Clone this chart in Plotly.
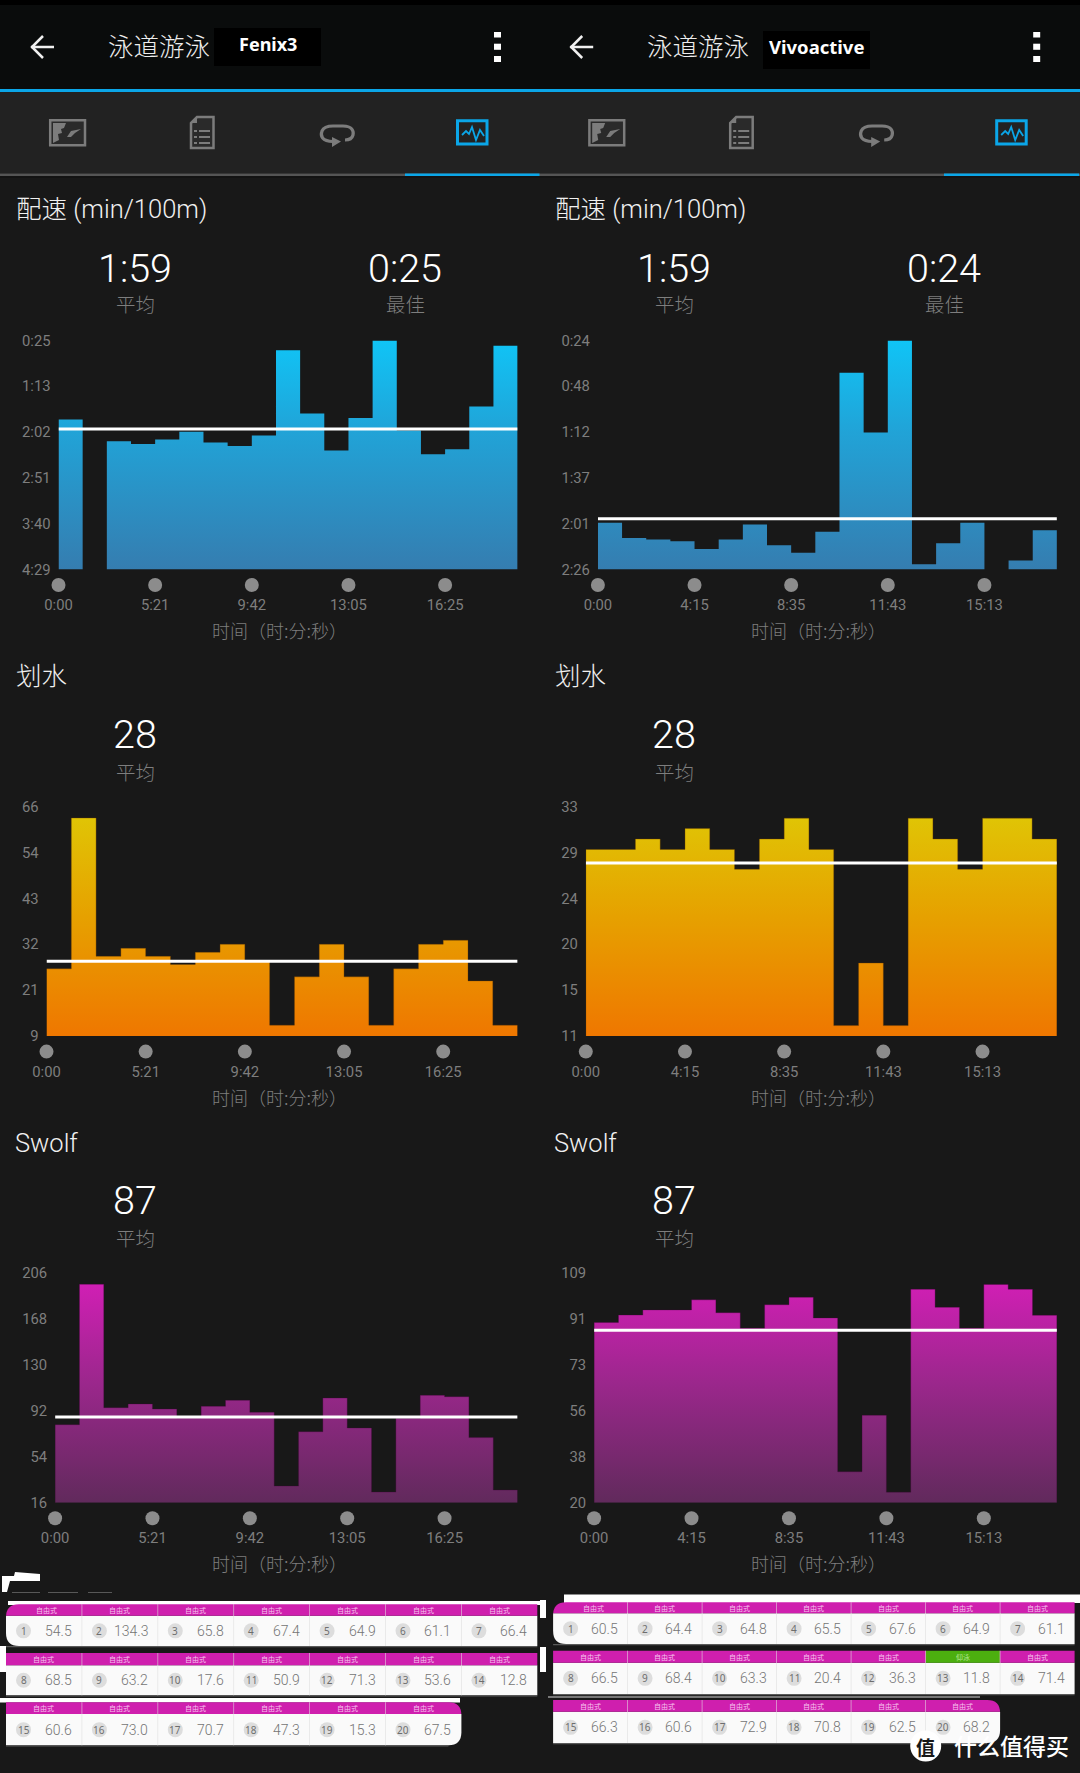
import plotly.graph_objects as go

W, H = 1080, 1773

# ---------- data ----------
pace_f = [109.4, None, 132.4, 135.5, 130.7, 122.4, 133.7, 137.6, 126.3, 35.4, 102.8, 142.4, 107.6, 25, 121.1, 146.3, 141.1, 95.5, 30.7]
pace_v = [121.2, 129.3, 130.1, 131, 135.1, 130.1, 122.1, 133.2, 137.1, 126, 41.2, 73.1, 24, 143.2, 132.1, 121.2, None, 141.2, 125.1]
strokes_f = [25.7, 63.2, 28.8, 30.8, 28.8, 26.8, 29.8, 31.8, 27.6, 11.7, 23.7, 31.8, 23.7, 11.7, 25.7, 31.8, 32.8, 22.7, 11.7]
strokes_v = [28.9, 28.9, 29.9, 28.9, 30.9, 28.9, 27, 29.9, 31.9, 28.9, 12, 18, 12, 31.9, 29.9, 27, 31.9, 31.9, 29.9]
swolf_f = [80.6, 196.9, 94.7, 97.8, 93.6, 86.2, 95.8, 100.8, 90.9, 29.8, 74.8, 102.7, 77.9, 24.8, 85.9, 104.9, 103.8, 69.9, 26.5]
swolf_v = [89.9, 92.8, 94.8, 94.8, 98.7, 93.7, 87.7, 96.8, 99.7, 91.7, 32, 53.9, 24.1, 102.8, 95.8, 87.7, 104.7, 102.8, 92.7]

avg_pace_f, avg_pace_v = 119.4, 119
avg_strokes_f, avg_strokes_v = 27.6, 27.6
avg_swolf_f, avg_swolf_v = 87, 86.9

ticks_pace_f = ["0:25", "1:13", "2:02", "2:51", "3:40", "4:29"]
tickv_pace_f = [25, 73.8, 122.6, 171.4, 220.2, 269]
ticks_pace_v = ["0:24", "0:48", "1:12", "1:37", "2:01", "2:26"]
tickv_pace_v = [24, 48.4, 72.8, 97.2, 121.6, 146]
ticks_str_f = ["66", "54", "43", "32", "21", "9"]
tickv_str_f = [66, 54.6, 43.2, 31.8, 20.4, 9]
ticks_str_v = ["33", "29", "24", "20", "15", "11"]
tickv_str_v = [33, 28.6, 24.2, 19.8, 15.4, 11]
ticks_sw_f = ["206", "168", "130", "92", "54", "16"]
tickv_sw_f = [206, 168, 130, 92, 54, 16]
ticks_sw_v = ["109", "91", "73", "56", "38", "20"]
tickv_sw_v = [109, 91.2, 73.4, 55.6, 37.8, 20]

time_idx = [0, 4, 8, 12, 16]
times_f = ["0:00", "5:21", "9:42", "13:05", "16:25"]
times_v = ["0:00", "4:15", "8:35", "11:43", "15:13"]

laps_f = [54.5, 134.3, 65.8, 67.4, 64.9, 61.1, 66.4, 68.5, 63.2, 17.6, 50.9, 71.3, 53.6, 12.8,
          60.6, 73.0, 70.7, 47.3, 15.3, 67.5]
laps_v = [60.5, 64.4, 64.8, 65.5, 67.6, 64.9, 61.1, 66.5, 68.4, 63.3, 20.4, 36.3, 11.8, 71.4,
          66.3, 60.6, 72.9, 70.8, 62.5, 68.2]
stroke_name = "自由式"
stroke_alt = "仰泳"
alt_lap_v = 13

# ---------- style ----------
BG = "#181818"
BLUE = "#0ba6e8"
GREY = "#7e7e7e"
MAG = "#cf1fae"
GREEN = "#4caf0f"
SANS = "Roboto, 'Noto Sans CJK SC', sans-serif"
CJK = "'Noto Sans CJK SC', Roboto, sans-serif"

CS_PACE = [[0, "#10c4f6"], [0.4, "#21a3d7"], [1, "#357db0"]]
CS_STR = [[0, "#e0c405"], [0.45, "#e6a100"], [1, "#ef7700"]]
CS_SW = [[0, "#d01fb4"], [0.45, "#9b278c"], [1, "#612a5c"]]

fx = lambda x: x / W
fy = lambda y: 1 - y / H

shapes, annos = [], []


def path(pts, close=True):
    d = "M" + " L".join(f"{fx(x):.5f},{fy(y):.5f}" for x, y in pts)
    return d + (" Z" if close else "")


def add_poly(pts, fill=None, lc=None, lw=0, close=True):
    shapes.append(dict(type="path", path=path(pts, close), xref="paper", yref="paper",
                       fillcolor=fill if fill else "rgba(0,0,0,0)",
                       line=dict(color=lc if lc else "rgba(0,0,0,0)", width=lw)))


def add_rect(x0, y0, x1, y1, fill=None, lc=None, lw=0):
    shapes.append(dict(type="rect", xref="paper", yref="paper", x0=fx(x0), x1=fx(x1), y0=fy(y0), y1=fy(y1),
                       fillcolor=fill if fill else "rgba(0,0,0,0)",
                       line=dict(color=lc if lc else "rgba(0,0,0,0)", width=lw)))


def add_circle(cx, cy, rx, ry, fill):
    shapes.append(dict(type="circle", xref="paper", yref="paper", x0=fx(cx - rx), x1=fx(cx + rx),
                       y0=fy(cy - ry), y1=fy(cy + ry), fillcolor=fill, line=dict(width=0)))


def rrect(x0, y0, x1, y1, fill, tl=0, tr=0, br=0, bl=0):
    def p(x, y):
        return f"{fx(x):.5f},{fy(y):.5f}"
    d = f"M{p(x0 + tl, y0)} L{p(x1 - tr, y0)} Q{p(x1, y0)} {p(x1, y0 + tr)} L{p(x1, y1 - br)} Q{p(x1, y1)} {p(x1 - br, y1)} "
    d += f"L{p(x0 + bl, y1)} Q{p(x0, y1)} {p(x0, y1 - bl)} L{p(x0, y0 + tl)} Q{p(x0, y0)} {p(x0 + tl, y0)} Z"
    shapes.append(dict(type="path", path=d, xref="paper", yref="paper", fillcolor=fill, line=dict(width=0)))


def text(x, y, s, size, color="#ffffff", family=SANS, anchor="center", weight=None):
    f = dict(size=size, color=color, family=family)
    if weight:
        f["weight"] = weight
    annos.append(dict(x=fx(x), y=fy(y), xref="paper", yref="paper", text=s, showarrow=False,
                      xanchor=anchor, yanchor="middle", font=f, borderpad=0, borderwidth=0))


# ---------- app chrome ----------
add_rect(0, 0, W, 5, "#000000")
add_rect(0, 5, W, 89, "#0a0c0c")
add_rect(0, 92, W, 173, "#222222")
add_rect(0, 89, W, 92, BLUE)
add_rect(0, 173.5, W, 176, "#555555")
add_rect(0, 176, W, 178, "#131313")
add_rect(405, 173.5, 539.5, 176, BLUE)
add_rect(944, 173.5, 1079, 176, BLUE)

add_rect(214, 28, 321, 66, "#000000")
add_rect(763, 31, 870, 69, "#000000")
text(267.6, 44, "Fenix3", 18, family="'Noto Sans', sans-serif", weight=700)
text(816.5, 46, "Vivoactive", 18.5, family="'Noto Sans', sans-serif", weight=700)

for dx in (0, 539.2):
    # back arrow
    add_poly([(dx + 31, 47), (dx + 54, 47)], lc="#f0f0f0", lw=2.5, close=False)
    add_poly([(dx + 43, 36), (dx + 32, 47), (dx + 43, 58)], lc="#f0f0f0", lw=2.5, close=False)
    text(dx + 159, 45, "泳道游泳", 25.5, "#eeeeee", CJK, weight=300)
    # overflow menu
    for a, b in ((32, 37.5), (43.7, 49.8), (56, 62)):
        add_rect(dx + 494, a, dx + 501, b, "#ffffff")
    # tab 1: pool
    add_rect(dx + 50.2, 120.2, dx + 85, 145.2, lc="#7c7c7c", lw=2.5, fill="#2a2a2a")
    add_poly([(dx + 53, 123), (dx + 66, 123), (dx + 64, 128), (dx + 61, 129), (dx + 62, 133), (dx + 58, 134),
              (dx + 59, 140), (dx + 53, 143)], fill="#7c7c7c")
    add_poly([(dx + 67, 137), (dx + 71, 131), (dx + 81, 129), (dx + 75, 133), (dx + 71, 137)], fill="#7c7c7c")
    # tab 2: document
    add_poly([(dx + 197, 117), (dx + 213.5, 117), (dx + 213.5, 148), (dx + 191, 148), (dx + 191, 123)],
             lc="#7c7c7c", lw=2.5, fill="#2a2a2a")
    add_poly([(dx + 197, 117), (dx + 197, 123), (dx + 191, 123)], fill="#7c7c7c")
    for ly in (131, 137, 143):
        add_rect(dx + 194, ly - 1, dx + 197, ly + 1, "#7c7c7c")
        add_rect(dx + 199, ly - 1, dx + 210, ly + 1, "#7c7c7c")
    # tab 3: loop
    d = "M{} C{} {} {} C{} {} {} L{} C{} {} {} C{} {} {}".format(*[
        f"{fx(dx + a):.5f},{fy(b):.5f}" for a, b in [
            (333, 141.5), (322, 141), (320, 136), (322, 131), (324, 126.5), (329, 126), (333, 126), (343, 126),
            (352, 126), (354, 131), (353, 135), (352, 139), (348, 140), (345, 140)]])
    shapes.append(dict(type="path", path=d, xref="paper", yref="paper", line=dict(color="#7c7c7c", width=3.2)))
    add_poly([(dx + 332, 137), (dx + 341, 141.5), (dx + 332, 147)], fill="#7c7c7c")
    # tab 4: activity
    add_rect(dx + 457.5, 120.8, dx + 487, 144, lc=BLUE, lw=3)
    add_poly([(dx + 462, 135), (dx + 466, 131), (dx + 469, 134), (dx + 472, 127), (dx + 476, 140),
              (dx + 480, 130), (dx + 484, 136)], lc=BLUE, lw=1.8, close=False)


# ---------- charts ----------
def steps(vals, base):
    xs, ys, open_seg = [], [], False
    for i, v in enumerate(vals):
        if v is None:
            if open_seg:
                xs += [i, None]
                ys += [base, None]
                open_seg = False
            continue
        if not open_seg:
            xs += [i]
            ys += [base]
            open_seg = True
        xs += [i, i + 1]
        ys += [v, v]
    if open_seg:
        xs += [len(vals)]
        ys += [base]
    return xs, ys


charts = [
    # values, avg, tickvals, ticktext, base, axis-top, times, colors, x-domain, y-top, y-bottom, edge
    (pace_f, avg_pace_f, tickv_pace_f, ticks_pace_f, 269, 25, times_f, CS_PACE, (58.5, 517.6), (340.4, 569.4), 25, "rgba(0,0,0,0)"),
    (pace_v, avg_pace_v, tickv_pace_v, ticks_pace_v, 146, 24, times_v, CS_PACE, (597.9, 1056.9), (340.4, 569.4), 24, "rgba(0,0,0,0)"),
    (strokes_f, avg_strokes_f, tickv_str_f, ticks_str_f, 9, 66, times_f, CS_STR, (46.5, 517.6), (806.7, 1036), 63.2, "rgba(110,60,0,0.35)"),
    (strokes_v, avg_strokes_v, tickv_str_v, ticks_str_v, 11, 33, times_v, CS_STR, (585.8, 1056.9), (806.7, 1036), 31.9, "rgba(110,60,0,0.35)"),
    (swolf_f, avg_swolf_f, tickv_sw_f, ticks_sw_f, 16, 206, times_f, CS_SW, (55.1, 517.6), (1273.3, 1502.7), 196.9, "rgba(70,0,60,0.3)"),
    (swolf_v, avg_swolf_v, tickv_sw_v, ticks_sw_v, 20, 109, times_v, CS_SW, (594.1, 1056.9), (1273.3, 1502.7), 104.7, "rgba(70,0,60,0.3)"),
]

fig = go.Figure()
layout_axes = {}
for n, (vals, avg, tv, tt, base, top, times, cs, xd, yd, grad_top, edge) in enumerate(charts, start=1):
    xa, ya = ("x", "y") if n == 1 else (f"x{n}", f"y{n}")
    xs, ys = steps(vals, base)
    fig.add_trace(go.Scatter(x=xs, y=ys, xaxis=xa, yaxis=ya, mode="lines", fill="toself",
                             line=dict(color=edge, width=1),
                             fillgradient=dict(type="vertical", colorscale=cs, start=grad_top, stop=base),
                             hoverinfo="skip", showlegend=False))
    fig.add_trace(go.Scatter(x=[0, len(vals)], y=[avg, avg], xaxis=xa, yaxis=ya, mode="lines",
                             line=dict(color="#ffffff", width=3), hoverinfo="skip", showlegend=False))
    layout_axes["xaxis" if n == 1 else f"xaxis{n}"] = dict(
        domain=[fx(xd[0]), fx(xd[1])], anchor=ya, range=[0, len(vals)], tickmode="array", tickvals=time_idx,
        ticktext=times, ticks="outside", ticklen=22, tickcolor="rgba(0,0,0,0)", tickfont=dict(size=14.8, color=GREY, family=SANS),
        showgrid=False, zeroline=False, showline=False, fixedrange=True)
    layout_axes["yaxis" if n == 1 else f"yaxis{n}"] = dict(
        domain=[fy(yd[1]), fy(yd[0])], anchor=xa, range=[base, top], tickmode="array", tickvals=tv, ticktext=tt,
        ticks="outside", ticklen=4, tickcolor="rgba(0,0,0,0)", tickfont=dict(size=14.8, color=GREY, family=SANS),
        showgrid=False, zeroline=False, showline=False, fixedrange=True)
    for t in time_idx:
        cx = xd[0] + t / len(vals) * (xd[1] - xd[0])
        add_circle(cx, yd[1] + 15.6, 7, 7, "#8c8c8c")
    text(279.6 + (539.2 if n % 2 == 0 else 0), yd[1] + 60.5, "时间（时:分:秒）", 18, GREY, CJK, weight=300)

for dx, best in ((0, "0:25"), (539.2, "0:24")):
    text(dx + 16, 209, "配速 (min/100m)", 25.5, "#f0f0f0", SANS, "left", 300)
    text(dx + 135, 268, "1:59", 39.5, "#ffffff", SANS, weight=300)
    text(dx + 135, 304, "平均", 19.5, GREY, CJK, weight=300)
    text(dx + 405, 268, best, 39.5, "#ffffff", SANS, weight=300)
    text(dx + 405, 304, "最佳", 19.5, GREY, CJK, weight=300)
    text(dx + 16, 676, "划水", 25.5, "#f0f0f0", SANS, "left", 300)
    text(dx + 135, 734.5, "28", 39.5, "#ffffff", SANS, weight=300)
    text(dx + 135, 771, "平均", 19.5, GREY, CJK, weight=300)
    text(dx + 15, 1142.5, "Swolf", 25.5, "#f0f0f0", SANS, "left", 300)
    text(dx + 135, 1200.5, "87", 39.5, "#ffffff", SANS, weight=300)
    text(dx + 135, 1237, "平均", 19.5, GREY, CJK, weight=300)


# ---------- lap tables ----------
def table(laps, x0, colw, rows, alt=None):
    R = 13
    for r, (h0, h1, b1) in enumerate(rows):
        n = 7 if r < 2 else 6
        first = r * 7
        x1 = x0 + n * colw
        rrect(x0, h1, x1, b1, "#fafafa", bl=R if r == 0 else 0, br=R if r == 2 else 0)
        add_rect(x0, b1, x1 - (R if r == 2 else 0), b1 + 1.2, "#5a5a5a")
        for c in range(n):
            lap = first + c + 1
            cx0 = x0 + c * colw
            col = GREEN if lap == alt else MAG
            rrect(cx0, h0, cx0 + colw, h1, col, tl=R if (r == 0 and c == 0) else 0,
                  tr=R if (r == 2 and c == n - 1) else 0)
            if c:
                add_rect(cx0 - 0.4, h0, cx0 + 0.4, h1, "#e9a6dd")
                add_rect(cx0 - 0.4, h1, cx0 + 0.4, b1, "#e6e6e6")
            text(cx0 + colw / 2 + (3 if r == 0 and c == 0 else 0), (h0 + h1) / 2, stroke_alt if lap == alt else stroke_name,
                 7, "#f7c4ee" if lap != alt else "#b5e494", CJK)
            cyb = (h1 + b1) / 2
            add_circle(cx0 + 17.5, cyb, 7.5, 7.5, "#dddddd")
            text(cx0 + 17.5, cyb, str(lap), 10, "#6e6e6e", "'Noto Sans', sans-serif")
            text(cx0 + colw - 10, cyb, f"{laps[lap - 1]:.1f}", 14, "#757575", SANS, "right", 300)


# artefacts left by the image cut-out
add_poly([(2, 1576), (14, 1576), (15, 1572), (40, 1574), (40, 1581), (10, 1581), (7, 1592), (2, 1592)], fill="#ffffff")
for a, b in ((12, 40), (48, 78), (88, 112)):
    add_rect(a, 1592, b, 1592.8, "#6a6a6a")
add_rect(8, 1601, 540, 1605, "#ffffff")
add_rect(0, 1646, 6, 1672, "#ffffff")
add_rect(0, 1698, 460, 1702.5, "#ffffff")
add_rect(564, 1594.5, 1080, 1603, "#ffffff")
add_rect(540, 1600, 546, 1618, "#ffffff")
add_rect(540, 1647, 546, 1672, "#ffffff")
add_rect(548, 1696, 980, 1698, "#777777")

table(laps_f, 6, 75.9, [(1604.3, 1615.7, 1646), (1653, 1665.3, 1695.3), (1702.3, 1714, 1745.3)])
table(laps_v, 553.1, 74.5, [(1602.3, 1613.3, 1644), (1650.7, 1662.7, 1694), (1700, 1711.7, 1743)], alt=alt_lap_v)

# watermark
add_circle(925.7, 1746, 15.5, 15.5, "#ffffff")
text(925.7, 1746, "值", 19, "#181818", CJK, weight=700)
text(1011, 1745, "什么值得买", 23, "#ffffff", CJK, weight=500)

fig.update_layout(width=W, height=H, autosize=False, margin=dict(l=0, r=0, t=0, b=0, pad=0, autoexpand=False),
                  paper_bgcolor=BG, plot_bgcolor=BG, showlegend=False, shapes=shapes, annotations=annos,
                  **layout_axes)
fig.write_html("out.html", config=dict(displayModeBar=False),
               post_script="document.body.style.margin='0';document.documentElement.style.overflow='hidden';")
